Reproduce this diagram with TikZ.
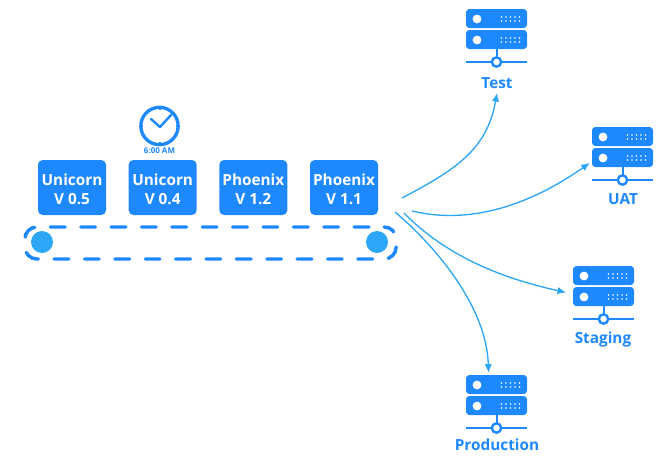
\documentclass[tikz,border=0pt]{standalone}
\usepackage{fontspec}
\setmainfont{Open Sans}
\usetikzlibrary{positioning, arrows.meta}
\definecolor{iconblue}{HTML}{1E88FF}
\definecolor{linkblue}{HTML}{2EA6F8}
\tikzset{
	block/.style={rectangle, fill=iconblue, text=white, font=\bfseries\fontsize{11.5}{14.25}\selectfont, align=center, rounded corners=3.5pt, minimum width=51pt, minimum height=41.25pt, inner sep=0pt, outer sep=0pt, execute at begin node=\rule{0pt}{26pt}},
	belt/.style={rectangle, draw=iconblue, line width=2.6pt, line cap=round, dash pattern=on 11pt off 11.78pt, dash phase=11.3pt, rounded corners=9pt, minimum width=278.5pt, minimum height=24pt, inner sep=0pt},
	roller/.style={circle, fill=linkblue, minimum size=16.5pt, inner sep=0pt},
	caption/.style={text=iconblue, font=\bfseries\fontsize{11.5}{13}\selectfont, inner sep=0pt, anchor=base},
	line/.style={draw=linkblue, line width=1pt, -{Latex[length=6.5pt,width=5.5pt]}},
	hostbox/.style={rectangle, minimum width=46pt, minimum height=47pt, inner sep=0pt, outer sep=1.5pt},
	pics/server/.style={code={
		\node[hostbox] (-icon) at (0,26.5) {};
		\foreach \y in {0,21} {
			\fill[iconblue, rounded corners=2.5pt] (-30.5,\y) rectangle (30.5,\y+19);
			\fill[white] (-19.5,\y+10) circle (3.3pt);
			\foreach \x in {5,9.5,14,18.5,23} {
				\fill[white] (\x,\y+8) circle (.65pt);
				\fill[white] (\x,\y+12) circle (.65pt);
			}
		}
		\draw[iconblue, line width=1.5pt] (0,40) -- (0,48.5);
		\draw[iconblue, line width=1.5pt] (-30.5,53) -- (30.5,53);
		\draw[iconblue, line width=1.8pt, fill=white] (0,53) circle (3.5pt);
	}}
}
\begin{document}
\begin{tikzpicture}[x=.75pt, y=-.75pt, node distance=17pt]
	\useasboundingbox (0,0) rectangle (661,455);

	% Blocks
	\node[block] (b1) at (72,187.5) {Unicorn\\V 0.5};
	\node[block, right=of b1] (b2) {Unicorn\\V 0.4};
	\node[block, right=of b2] (b3) {Phoenix\\V 1.2};
	\node[block, right=of b3] (b4) {Phoenix\\V 1.1};

	% Belt
	\node[belt] (track) at (210.5,243) {};
	\node[roller] (r1) at (42,242) {};
	\node[roller] (r2) at (377,242) {};

	% Clock
	\node[circle, draw=iconblue, line width=2.5pt, minimum size=28pt, inner sep=0pt] (clock) at (159.5,126) {};
	\foreach \a in {0,90,180,270}
		\draw[iconblue, line width=1.5pt] (clock.\a) -- ++(\a+180:3pt);
	\draw[iconblue, line width=1.8pt, line cap=round, line join=round] (151,119) -- (160,127) -- (171,115);
	\node[caption, font=\bfseries\fontsize{6}{7}\selectfont] (clocktime) at (159.5,153) {6:00 AM};

	% Servers
	\pic (test) at (496.5,9) {server};
	\pic (uat) at (622.5,127) {server};
	\pic (staging) at (603.5,266) {server};
	\pic (prod) at (496.5,375) {server};
	\node[caption] (testlabel) at (497,88.5) {Test};
	\node[caption] (uatlabel) at (623,204.5) {UAT};
	\node[caption] (staginglabel) at (603,343) {Staging};
	\node[caption] (prodlabel) at (497,450) {Production};

	% Arrows
	\coordinate (s1) at (402,198);
	\coordinate (s2) at (412,211);
	\coordinate (s3) at (404,213);
	\coordinate (s4) at (395,212);
	\path[line] (s1) .. controls (455,170) and (487,150) .. ([yshift=-3pt]testlabel.south);
	\path[line] (s2) .. controls (470,225) and (530,205) .. ([yshift=-7pt]uat-icon.west);
	\path[line] (s3) .. controls (450,260) and (510,280) .. ([xshift=-3.5pt]staging-icon.west);
	\path[line] (s4) .. controls (440,250) and (487,310) .. ([xshift=-6pt,yshift=-3.5pt]prod-icon.north);
\end{tikzpicture}
\end{document}
